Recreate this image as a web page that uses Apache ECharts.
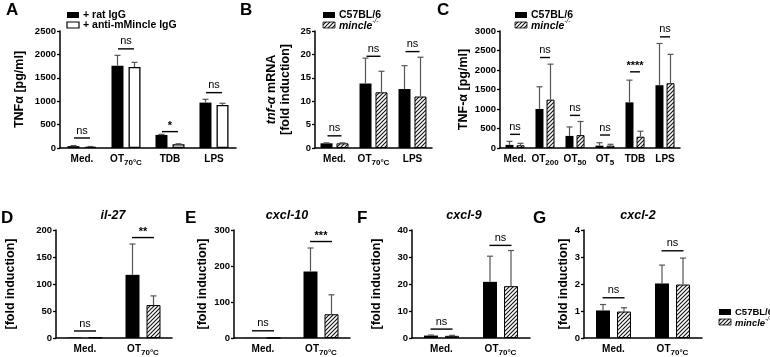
<!DOCTYPE html>
<html>
<head>
<meta charset="utf-8">
<title>TNF / chemokine panels</title>
<script src="https://cdn.jsdelivr.net/npm/echarts@6/dist/echarts.min.js"></script>
</head>
<body style="margin:0;background:#fff">
<div id="main" style="width:770px;height:357px;"></div>
<script type="text/javascript">
// ---- data ----
var aCats = ['Med.', 'OT{s|70°C}', 'TDB', 'LPS'];
var aRat = [40, 1760, 280, 970];
var aRatErr = [12, 220, 12, 70];
var aAnti = [25, 1730, 80, 920];
var aAntiErr = [8, 100, 10, 35];
var aSig = [214, 2118, 350, 1183];
var aSigLab = ['ns', 'ns', '*', 'ns'];

var bCats = ['Med.', 'OT{s|70°C}', 'LPS'];
var bWt = [1, 13.8, 12.6];
var bWtErr = [0.1, 5.4, 5.0];
var bKo = [1, 11.9, 11.0];
var bKoErr = [0.1, 4.5, 8.4];
var bSig = [2.6, 19.6, 20.6];
var bSigLab = ['ns', 'ns', 'ns'];

var cCats = ['Med.', 'OT{s|200}', 'OT{s|50}', 'OT{s|5}', 'TDB', 'LPS'];
var cWt = [80, 1000, 310, 60, 1170, 1610];
var cWtErr = [90, 570, 230, 75, 570, 1070];
var cKo = [70, 1240, 330, 60, 290, 1660];
var cKoErr = [50, 910, 350, 35, 140, 740];
var cSig = [350, 2320, 836, 333, 1953, 2850];
var cSigLab = ['ns', 'ns', 'ns', 'ns', '****', 'ns'];

var twoCats = ['Med.', 'OT{s|70°C}'];
var dWt = [1, 117], dWtErr = [0, 57], dKo = [1, 61], dKoErr = [0, 17];
var dSig = [13, 186], dSigLab = ['ns', '**'];
var eWt = [0.4, 185], eWtErr = [0, 65], eKo = [0.4, 66], eKoErr = [0, 54];
var eSig = [20, 268], eSigLab = ['ns', '***'];
var fWt = [0.9, 20.8], fWtErr = [0.2, 9.5], fKo = [0.8, 19.2], fKoErr = [0.2, 13.2];
var fSig = [3.3, 34.3], fSigLab = ['ns', 'ns'];
var gWt = [1.02, 2.02], gWtErr = [0.22, 0.68], gKo = [0.98, 1.98], gKoErr = [0.14, 0.98];
var gSig = [1.49, 3.23], gSigLab = ['ns', 'ns'];

var FONT = 'Liberation Sans, Arial, sans-serif';

// hatched fill for the knockout bars
function makeHatch() {
    var c = document.createElement('canvas');
    c.width = 4; c.height = 4;
    var g = c.getContext('2d');
    g.fillStyle = '#fff';
    g.fillRect(0, 0, 4, 4);
    g.strokeStyle = '#111';
    g.lineWidth = 1.1;
    g.beginPath();
    g.moveTo(0, 4); g.lineTo(4, 0);
    g.moveTo(-1, 1); g.lineTo(1, -1);
    g.moveTo(3, 5); g.lineTo(5, 3);
    g.stroke();
    return c;
}
var hatch = { image: makeHatch(), repeat: 'repeat' };

var panels = [
    { cats: aCats, wt: aRat, wtErr: aRatErr, ko: aAnti, koErr: aAntiErr, white: true,
      sig: aSig, sigLab: aSigLab, grid: { left: 60, top: 31, width: 176, height: 117 },
      max: 2500, interval: 500, barW: 12, gap: 5, half: 8,
      yName: 'TNFα [pg/ml]', nameGap: 33 },
    { cats: bCats, wt: bWt, wtErr: bWtErr, ko: bKo, koErr: bKoErr,
      sig: bSig, sigLab: bSigLab, grid: { left: 315, top: 31, width: 117, height: 117 },
      max: 25, interval: 5, barW: 12, gap: 4, half: 7,
      yName: '{i|tnf-α} mRNA\n[fold induction]', nameGap: 22 },
    { cats: cCats, wt: cWt, wtErr: cWtErr, ko: cKo, koErr: cKoErr,
      sig: cSig, sigLab: cSigLab, grid: { left: 500, top: 31, width: 180, height: 117 },
      max: 3000, interval: 500, barW: 8, gap: 3, half: 5,
      yName: 'TNF-α [pg/ml]', nameGap: 26 },
    { cats: twoCats, wt: dWt, wtErr: dWtErr, ko: dKo, koErr: dKoErr,
      sig: dSig, sigLab: dSigLab, grid: { left: 56, top: 230, width: 116, height: 110 },
      max: 200, interval: 50, barW: 14, gap: 7, half: 11,
      yName: '[fold induction]', nameGap: 38 },
    { cats: twoCats, wt: eWt, wtErr: eWtErr, ko: eKo, koErr: eKoErr,
      sig: eSig, sigLab: eSigLab, grid: { left: 234, top: 230, width: 116, height: 110 },
      max: 300, interval: 100, barW: 14, gap: 7, half: 11,
      yName: '[fold induction]', nameGap: 24 },
    { cats: twoCats, wt: fWt, wtErr: fWtErr, ko: fKo, koErr: fKoErr,
      sig: fSig, sigLab: fSigLab, grid: { left: 412, top: 230, width: 118, height: 110 },
      max: 40, interval: 10, barW: 14, gap: 7, half: 11,
      yName: '[fold induction]', nameGap: 28 },
    { cats: twoCats, wt: gWt, wtErr: gWtErr, ko: gKo, koErr: gKoErr,
      sig: gSig, sigLab: gSigLab, grid: { left: 584, top: 230, width: 118, height: 110 },
      max: 4, interval: 1, barW: 14, gap: 7, half: 11,
      yName: '[fold induction]', nameGap: 12 }
];

var grids = [], xAxes = [], yAxes = [], series = [];

function errSeries(idx, vals, errs, offset) {
    var data = vals.map(function (v, i) { return [i, v, errs[i]]; });
    return {
        type: 'custom', xAxisIndex: idx, yAxisIndex: idx, z: 5, silent: true,
        data: data,
        renderItem: function (params, api) {
            var e = api.value(2);
            if (!e) return null;
            var p = api.coord([api.value(0), api.value(1)]);
            var t = api.coord([api.value(0), api.value(1) + e]);
            var x = p[0] + offset;
            return {
                type: 'group',
                children: [
                    { type: 'line', shape: { x1: x, y1: p[1], x2: x, y2: t[1] },
                      style: { stroke: '#555', lineWidth: 1.2 } },
                    { type: 'line', shape: { x1: x - 3, y1: t[1], x2: x + 3, y2: t[1] },
                      style: { stroke: '#555', lineWidth: 1.2 } }
                ]
            };
        }
    };
}

function sigSeries(idx, ys, labs, half) {
    var data = ys.map(function (v, i) { return [i, v]; });
    return {
        type: 'custom', xAxisIndex: idx, yAxisIndex: idx, z: 6, silent: true,
        data: data,
        renderItem: function (params, api) {
            var p = api.coord([api.value(0), api.value(1)]);
            var lab = labs[params.dataIndex];
            var star = lab !== 'ns';
            return {
                type: 'group',
                children: [
                    { type: 'line', shape: { x1: p[0] - half, y1: p[1], x2: p[0] + half, y2: p[1] },
                      style: { stroke: '#000', lineWidth: 1.4 } },
                    { type: 'text',
                      style: { text: lab, x: p[0], y: p[1] - (star ? 0 : 2),
                               align: 'center', verticalAlign: 'bottom',
                               fontSize: 11, fontWeight: star ? 'bold' : 'normal',
                               fontFamily: FONT, fill: '#000' } }
                ]
            };
        }
    };
}

panels.forEach(function (p, i) {
    grids.push(p.grid);
    xAxes.push({
        type: 'category', gridIndex: i, data: p.cats,
        axisLine: { lineStyle: { color: '#000', width: 1.5 } },
        axisTick: { alignWithLabel: true, length: 3, lineStyle: { color: '#000', width: 1.3 } },
        axisLabel: {
            color: '#000', fontFamily: FONT, fontWeight: 'bold', fontSize: 10, margin: 6,
            interval: 0,
            formatter: function (v) {
                var k = v.indexOf('{s|');
                if (k < 0) return '{t|' + v + '}';
                return '{m|' + v.slice(0, k) + '}' + v.slice(k);
            },
            rich: {
                t: { fontFamily: FONT, fontWeight: 'bold', fontSize: 10, color: '#000' },
                m: { fontFamily: FONT, fontWeight: 'bold', fontSize: 10, color: '#000',
                     verticalAlign: 'top', padding: [0, 0, 3, 0] },
                s: { fontFamily: FONT, fontSize: 8, color: '#000', verticalAlign: 'bottom' }
            }
        }
    });
    yAxes.push({
        type: 'value', gridIndex: i, min: 0, max: p.max, interval: p.interval,
        name: p.yName, nameLocation: 'middle', nameRotate: 90, nameGap: p.nameGap,
        nameTextStyle: {
            color: '#000', fontFamily: FONT, fontWeight: 'bold', fontSize: 12.5, lineHeight: 14,
            rich: { i: { fontFamily: FONT, fontWeight: 'bold', fontStyle: 'italic', fontSize: 12.5, color: '#000' } }
        },
        axisLine: { show: true, lineStyle: { color: '#000', width: 1.5 } },
        axisTick: { show: true, length: 3, lineStyle: { color: '#000', width: 1.3 } },
        axisLabel: { color: '#000', fontFamily: FONT, fontWeight: 'bold', fontSize: 9.5, margin: 4,
                     formatter: function (v) { return String(v); } },
        splitLine: { show: false }
    });
    var gapPct = Math.round(p.gap / p.barW * 100) + '%';
    series.push({
        type: 'bar', name: i === 0 ? '+ rat IgG' : 'C57BL/6', xAxisIndex: i, yAxisIndex: i,
        data: p.wt, barWidth: p.barW, barGap: gapPct,
        itemStyle: { color: '#000' }
    });
    series.push({
        type: 'bar', name: i === 0 ? '+ anti-mMincle IgG' : 'mincle-/-', xAxisIndex: i, yAxisIndex: i,
        data: p.ko, barWidth: p.barW, barGap: gapPct,
        itemStyle: p.white ? { color: '#fff', borderColor: '#000', borderWidth: 1.3 }
                           : { color: hatch, borderColor: '#000', borderWidth: 1 }
    });
    var off = (p.barW + p.gap) / 2;
    series.push(errSeries(i, p.wt, p.wtErr, -off));
    series.push(errSeries(i, p.ko, p.koErr, off));
    series.push(sigSeries(i, p.sig, p.sigLab, p.half));
});

// panel letters, gene titles and legends
var graphics = [];
[['A', 6, 2], ['B', 240, 2], ['C', 437, 2], ['D', 1, 210], ['E', 185, 210], ['F', 357, 210], ['G', 533, 210]]
    .forEach(function (l) {
        graphics.push({ type: 'text', left: l[1], top: l[2],
            style: { text: l[0], fontFamily: FONT, fontWeight: 'bold', fontSize: 17, fill: '#000' } });
    });
[['il-27', 113], ['cxcl-10', 287], ['cxcl-9', 464], ['cxcl-2', 638]].forEach(function (t) {
    graphics.push({ type: 'text', x: t[1], y: 216,
        style: { text: t[0], align: 'center', verticalAlign: 'middle', fontFamily: FONT,
                 fontWeight: 'bold', fontStyle: 'italic', fontSize: 12.5, fill: '#000' } });
});

function legend(x, y, labels, second, fs) {
    graphics.push({ type: 'rect', shape: { x: x, y: y, width: 12, height: 6 }, style: { fill: '#000' } });
    graphics.push({ type: 'rect', shape: { x: x, y: y + 10, width: 12, height: 6 },
        style: second === 'white' ? { fill: '#fff', stroke: '#000', lineWidth: 1.2 }
                                  : { fill: hatch, stroke: '#000', lineWidth: 0.8 } });
    graphics.push({ type: 'text', x: x + 16, y: y + 3,
        style: { text: labels[0], verticalAlign: 'middle', fontFamily: FONT, fontWeight: 'bold', fontSize: fs, fill: '#000' } });
    graphics.push({ type: 'text', x: x + 16, y: y + 13,
        style: { text: labels[1], verticalAlign: 'middle', fontFamily: FONT, fontWeight: 'bold', fontSize: fs, fill: '#000',
                 rich: {
                     it: { fontFamily: FONT, fontWeight: 'bold', fontStyle: 'italic', fontSize: fs, fill: '#000',
                           verticalAlign: 'bottom', padding: [3, 0, 0, 0] },
                     sup: { fontFamily: FONT, fontStyle: 'italic', fontSize: 6.5, fill: '#000', verticalAlign: 'top' }
                 } } });
}
legend(67, 12, ['+ rat IgG', '+ anti-mMincle IgG'], 'white', 10.5);
legend(323, 12, ['C57BL/6', '{it|mincle}{sup|-/-}'], null, 10.5);
legend(515, 12, ['C57BL/6', '{it|mincle}{sup|-/-}'], null, 10.5);
legend(719, 309, ['C57BL/6', '{it|mincle}{sup|-/-}'], null, 9.5);

var myChart = echarts.init(document.getElementById('main'));
myChart.setOption({
    animation: false,
    backgroundColor: '#fff',
    grid: grids,
    xAxis: xAxes,
    yAxis: yAxes,
    series: series,
    graphic: graphics
});
</script>
</body>
</html>
